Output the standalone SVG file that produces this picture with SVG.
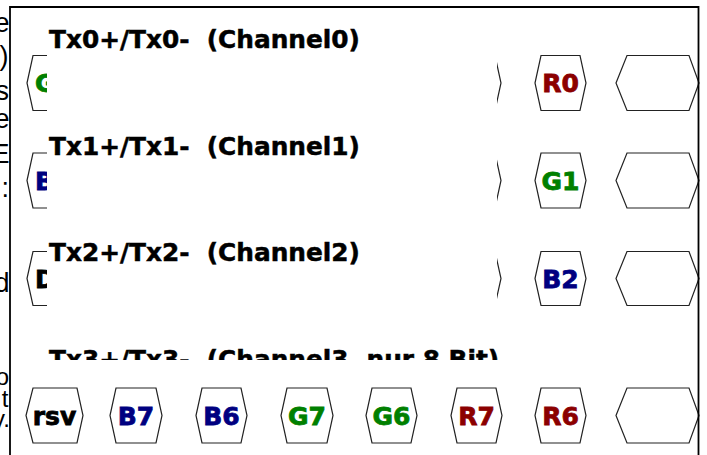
<svg xmlns="http://www.w3.org/2000/svg" width="707" height="455" viewBox="0 0 707 455">
<style>
.hex{fill:#fff;stroke:#222;stroke-width:1.2}
.lbl{font-family:"DejaVu Sans",Verdana,sans-serif;font-weight:bold;font-size:25px;text-anchor:middle;stroke-width:0.8}
.lbl0{font-family:"DejaVu Sans",Verdana,sans-serif;font-weight:bold;font-size:25px;stroke-width:0.8}
.ttl{font-family:"DejaVu Sans",Verdana,sans-serif;font-weight:bold;font-size:24.8px;white-space:pre;fill:#000;stroke:#000;stroke-width:0.5}
.frag{font-family:"Liberation Sans",Arial,sans-serif;font-size:27px;text-anchor:end;fill:#000}
.frs{font-size:24px}
.r{fill:#8b0000;stroke:#8b0000}.g{fill:#008000;stroke:#008000}.b{fill:#000080;stroke:#000080}.k{fill:#000;stroke:#000}
</style>
<defs>
<clipPath id="clipTitle"><rect x="0" y="0" width="707" height="360"/></clipPath>
</defs>
<rect x="0" y="0" width="707" height="455" fill="#fff"/>
<g id="fragments">
<text class="frag" x="9.5" y="32">e</text>
<text class="frag" x="8.5" y="65">)</text>
<text class="frag" x="9" y="100">s</text>
<text class="frag" x="9.5" y="128">e</text>
<text class="frag" x="9.5" y="163">E</text>
<text class="frag" x="9" y="197">:</text>
<text class="frag" x="9.5" y="292">d</text>
<text class="frag frs" x="9" y="385">o</text>
<text class="frag frs" x="8.5" y="407">t</text>
<text class="frag frs" x="10" y="427">y.</text>
</g>
<g id="row0">
<g id="n-r0-first"><polygon class="hex" points="27,83 33,55.5 77,55.5 83,83 77,110.5 33,110.5"/><text class="lbl0 g" x="35" y="92">G</text></g>
<g id="n-r0-mid"><polygon class="hex" points="450,83 456,55.5 495,55.5 501,83 495,110.5 456,110.5"/></g>
<g id="n-R0"><polygon class="hex" points="535,83 541,55.5 580,55.5 586,83 580,110.5 541,110.5"/><text class="lbl r" x="560.5" y="92">R0</text></g>
<g id="n-r0-empty"><polygon class="hex" points="616,83 627,55.5 689,55.5 699,83 689,110.5 627,110.5"/></g>
</g>
<g id="row1">
<g id="n-r1-first"><polygon class="hex" points="27,180.5 33,153 77,153 83,180.5 77,208 33,208"/><text class="lbl0 b" x="35" y="189.5">B</text></g>
<g id="n-r1-mid"><polygon class="hex" points="450,180.5 456,153 495,153 501,180.5 495,208 456,208"/></g>
<g id="n-G1"><polygon class="hex" points="535,180.5 541,153 580,153 586,180.5 580,208 541,208"/><text class="lbl g" x="560.5" y="189.5">G1</text></g>
<g id="n-r1-empty"><polygon class="hex" points="616,180.5 627,153 689,153 699,180.5 689,208 627,208"/></g>
</g>
<g id="row2">
<g id="n-r2-first"><polygon class="hex" points="27,278.5 33,251.5 77,251.5 83,278.5 77,305.5 33,305.5"/><text class="lbl0 k" x="35" y="287.5">D</text></g>
<g id="n-r2-mid"><polygon class="hex" points="450,278.5 456,251.5 495,251.5 501,278.5 495,305.5 456,305.5"/></g>
<g id="n-B2"><polygon class="hex" points="535,278.5 541,251.5 580,251.5 586,278.5 580,305.5 541,305.5"/><text class="lbl b" x="560.5" y="287.5">B2</text></g>
<g id="n-r2-empty"><polygon class="hex" points="616,278.5 627,251.5 689,251.5 699,278.5 689,305.5 627,305.5"/></g>
</g>
<rect id="cover" x="47" y="14" width="450" height="346" fill="#fff"/>
<g id="titles">
<text class="ttl" x="49" y="48">Tx0+/Tx0-  (Channel0)</text>
<text class="ttl" x="49" y="155">Tx1+/Tx1-  (Channel1)</text>
<text class="ttl" x="49" y="261">Tx2+/Tx2-  (Channel2)</text>
<text class="ttl" x="49" y="368" clip-path="url(#clipTitle)">Tx3+/Tx3-  (Channel3, nur 8 Bit)</text>
</g>
<g id="row3">
<g id="n-rsv"><polygon class="hex" points="26,415.5 33,388 77,388 83,415.5 77,443 33,443"/><text class="lbl k" x="54.5" y="424.5">rsv</text></g>
<g id="n-B7"><polygon class="hex" points="110,415.5 116,388 156,388 162,415.5 156,443 116,443"/><text class="lbl b" x="136" y="424.5">B7</text></g>
<g id="n-B6"><polygon class="hex" points="196,415.5 202,388 241,388 247,415.5 241,443 202,443"/><text class="lbl b" x="221.5" y="424.5">B6</text></g>
<g id="n-G7"><polygon class="hex" points="281,415.5 287,388 327,388 333,415.5 327,443 287,443"/><text class="lbl g" x="307" y="424.5">G7</text></g>
<g id="n-G6"><polygon class="hex" points="366,415.5 372,388 411,388 417,415.5 411,443 372,443"/><text class="lbl g" x="391.5" y="424.5">G6</text></g>
<g id="n-R7"><polygon class="hex" points="451,415.5 457,388 496,388 502,415.5 496,443 457,443"/><text class="lbl r" x="476.5" y="424.5">R7</text></g>
<g id="n-R6"><polygon class="hex" points="535,415.5 541,388 580,388 586,415.5 580,443 541,443"/><text class="lbl r" x="560.5" y="424.5">R6</text></g>
<g id="n-r3-empty"><polygon class="hex" points="616,415.5 627,388 689,388 699,415.5 689,443 627,443"/></g>
</g>
<g id="connectors"></g>
<path id="border" d="M10,460 V7 H698.5 V460" fill="none" stroke="#000" stroke-width="1.8"/>
</svg>
